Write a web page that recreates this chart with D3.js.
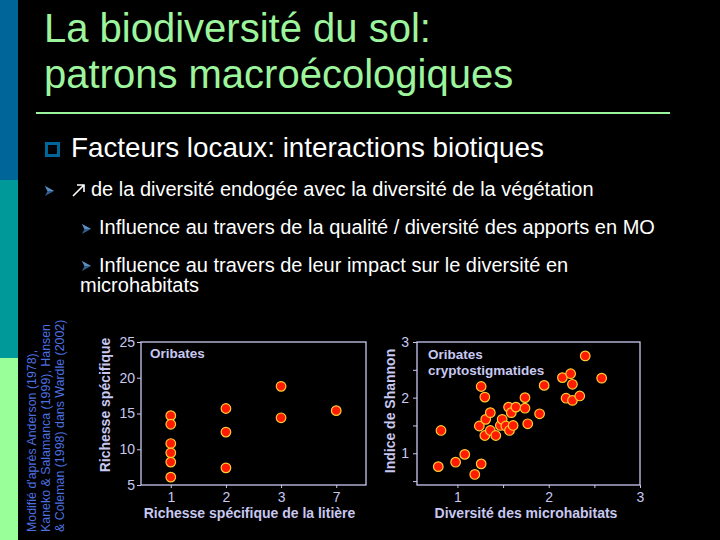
<!DOCTYPE html>
<html><head><meta charset="utf-8">
<script src="https://cdn.jsdelivr.net/npm/d3@7"></script>
<style>
html,body{margin:0;padding:0;background:#000;}
svg{display:block;font-family:"Liberation Sans",Arial,sans-serif;}
</style></head>
<body>
<svg id="c" width="720" height="540"></svg>
<script>
// ---- data ----
const titleLines = ["La biodiversité du sol:", "patrons macroécologiques"];
const bulletMain = "Facteurs locaux: interactions biotiques";
const bulletSub = "de la diversité endogée avec la diversité de la végétation";
const subSub1 = "Influence au travers de la qualité / diversité des apports en MO";
const subSub2a = "Influence au travers de leur impact sur le diversité en";
const subSub2b = "microhabitats";
const citation = ["Modifié d'après Anderson (1978),", "Kaneko & Salamanca (1999), Hansen", "& Coleman (1998) dans Wardle (2002)"];

// Chart 1: Oribates – species richness vs litter species richness
const litterCats = ["1", "2", "3", "7"];
const c1X = ["1","1","1","1","1","1","2","2","2","3","3","7"];
const c1Y = [14.7, 13.5, 10.8, 9.5, 8.2, 6.1, 15.7, 12.4, 7.4, 18.8, 14.4, 15.4];
const c1YTicks = [5, 10, 15, 20, 25];

// Chart 2: Oribates cryptostigmatides – Shannon index vs microhabitat diversity
const c2X = [0.79, 0.82, 0.98, 1.08, 1.19, 1.26, 1.26, 1.30, 1.24, 1.31, 1.36, 1.30, 1.36, 1.42, 1.47, 1.49, 1.53, 1.57, 1.56, 1.59, 1.61, 1.64, 1.74, 1.74, 1.77, 1.90, 1.95, 2.15, 2.24, 2.26, 2.19, 2.26, 2.34, 2.40, 2.58];
const c2Y = [0.76, 1.41, 0.84, 0.98, 0.62, 0.81, 2.20, 2.01, 1.49, 1.61, 1.73, 1.32, 1.41, 1.32, 1.50, 1.61, 1.49, 1.41, 1.83, 1.73, 1.50, 1.83, 1.81, 2.00, 1.53, 1.71, 2.22, 2.36, 2.43, 2.24, 1.99, 1.95, 2.03, 2.75, 2.35];
const c2XTicks = [1, 1.5, 2, 2.5, 3];
const c2YTicks = [0.5, 1, 1.5, 2, 2.5, 3];

// ---- styles ----
const green = "#9cf59c";
const axisCol = "#c8c8f0";
const citeCol = "#4d70e0";

const svg = d3.select("#c");

// sidebar
svg.append("rect").attr("x",0).attr("y",0).attr("width",18).attr("height",180).attr("fill","#006699");
svg.append("rect").attr("x",0).attr("y",180).attr("width",18).attr("height",178).attr("fill","#009999");
svg.append("rect").attr("x",0).attr("y",358).attr("width",18).attr("height",182).attr("fill","#99ff99");

// title
svg.selectAll("text.title").data(titleLines).join("text")
  .attr("class","title").attr("x",44).attr("y",(d,i)=>42+i*46)
  .attr("fill",green).attr("font-size",40).text(d=>d);
svg.append("line").attr("x1",36).attr("x2",670).attr("y1",113).attr("y2",113)
  .attr("stroke",green).attr("stroke-width",2);

// bullets
svg.append("rect").attr("x",46.5).attr("y",143.5).attr("width",12).attr("height",12)
  .attr("fill","none").attr("stroke","#006699").attr("stroke-width",3);
svg.append("text").attr("x",71).attr("y",157).attr("fill","#fff").attr("font-size",27.8).text(bulletMain);

function arrowHead(x, y) {
  const g = svg.append("g").attr("transform",`translate(${x},${y})`);
  g.append("path").attr("d","M0,-5 L9,0 L0,5 L2.5,0 Z").attr("fill","#2f5f8f");
  g.append("path").attr("d","M0,-5 L9,0 L2.5,0 Z").attr("fill","#5a8fc0");
}
arrowHead(45, 191);
// thin north-east arrow symbol
svg.append("path").attr("d","M73,196 L84,185 M77,185 L84,185 L84,192")
  .attr("fill","none").attr("stroke","#fff").attr("stroke-width",1.6);
svg.append("text").attr("x",91).attr("y",196).attr("fill","#fff").attr("font-size",20).text(bulletSub);

arrowHead(82, 229);
svg.append("text").attr("x",99).attr("y",234).attr("fill","#fff").attr("font-size",20).text(subSub1);
arrowHead(82, 266);
svg.append("text").attr("x",99).attr("y",272).attr("fill","#fff").attr("font-size",20).text(subSub2a);
svg.append("text").attr("x",80).attr("y",292).attr("fill","#fff").attr("font-size",20).text(subSub2b);

// citation (rotated)
citation.forEach((t,i)=>{
  svg.append("text").attr("transform",`translate(${36+i*14},532) rotate(-90)`)
    .attr("fill",citeCol).attr("font-size",12.4).text(t);
});

// ---- chart 1 ----
const f1 = {l:141, r:366, t:342, b:485};
const x1 = d3.scalePoint().domain(litterCats).range([f1.l,f1.r]).padding(0.54);
const y1 = d3.scaleLinear().domain([5,25]).range([f1.b,f1.t]);
const g1 = svg.append("g");

function styleAxis(g){
  g.select(".domain").remove();
  g.selectAll(".tick line").attr("stroke",axisCol);
  g.selectAll(".tick text").attr("fill",axisCol).attr("font-size",14)
    .attr("font-family","Liberation Sans, Arial, sans-serif");
}
g1.append("g").attr("transform",`translate(${f1.l},0)`)
  .call(d3.axisLeft(y1).tickValues(c1YTicks).tickSize(4).tickPadding(2))
  .call(styleAxis);
g1.append("g").attr("transform",`translate(0,${f1.b})`)
  .call(d3.axisBottom(x1).tickSize(3).tickPadding(4))
  .call(styleAxis);
g1.append("rect").attr("x",f1.l).attr("y",f1.t).attr("width",f1.r-f1.l).attr("height",f1.b-f1.t)
  .attr("fill","none").attr("stroke",axisCol).attr("stroke-width",1.3);
g1.selectAll("circle").data(c1Y).join("circle")
  .attr("cx",(d,i)=>x1(c1X[i])).attr("cy",d=>y1(d)).attr("r",4.8)
  .attr("fill","#ff1a00").attr("stroke","#ffcc33").attr("stroke-width",1.2);
g1.append("text").attr("x",150).attr("y",358).attr("fill",axisCol).attr("font-weight","bold")
  .attr("font-size",13.5).text("Oribates");
g1.append("text").attr("x",249.5).attr("y",518).attr("text-anchor","middle").attr("fill",axisCol)
  .attr("font-weight","bold").attr("font-size",14).text("Richesse spécifique de la litière");
g1.append("text").attr("transform","translate(110,405) rotate(-90)").attr("text-anchor","middle")
  .attr("fill",axisCol).attr("font-weight","bold").attr("font-size",14).text("Richesse spécifique");

// ---- chart 2 ----
const f2 = {l:417, r:640, t:342, b:485};
const x2 = d3.scaleLinear().domain([0.557,3]).range([f2.l,f2.r]);
const y2 = d3.scaleLinear().domain([0.43,3]).range([f2.b,f2.t]);
const g2 = svg.append("g");
g2.append("g").attr("transform",`translate(${f2.l},0)`)
  .call(d3.axisLeft(y2).tickValues(c2YTicks).tickSize(4).tickPadding(4)
    .tickFormat(d=>Number.isInteger(d)?d3.format("d")(d):""))
  .call(styleAxis);
g2.append("g").attr("transform",`translate(0,${f2.b})`)
  .call(d3.axisBottom(x2).tickValues(c2XTicks).tickSize(3).tickPadding(4)
    .tickFormat(d=>Number.isInteger(d)?d3.format("d")(d):""))
  .call(styleAxis);
g2.append("rect").attr("x",f2.l).attr("y",f2.t).attr("width",f2.r-f2.l).attr("height",f2.b-f2.t)
  .attr("fill","none").attr("stroke",axisCol).attr("stroke-width",1.3);
g2.selectAll("circle").data(c2Y).join("circle")
  .attr("cx",(d,i)=>x2(c2X[i])).attr("cy",d=>y2(d)).attr("r",4.8)
  .attr("fill","#ff1a00").attr("stroke","#ffcc33").attr("stroke-width",1.2);
g2.append("text").attr("x",428).attr("y",359).attr("fill",axisCol).attr("font-weight","bold")
  .attr("font-size",13.5).text("Oribates");
g2.append("text").attr("x",428).attr("y",375).attr("fill",axisCol).attr("font-weight","bold")
  .attr("font-size",13.5).text("cryptostigmatides");
g2.append("text").attr("x",526).attr("y",518).attr("text-anchor","middle").attr("fill",axisCol)
  .attr("font-weight","bold").attr("font-size",14).text("Diversité des microhabitats");
g2.append("text").attr("transform","translate(395,411) rotate(-90)").attr("text-anchor","middle")
  .attr("fill",axisCol).attr("font-weight","bold").attr("font-size",14).text("Indice de Shannon");
</script>
</body></html>
